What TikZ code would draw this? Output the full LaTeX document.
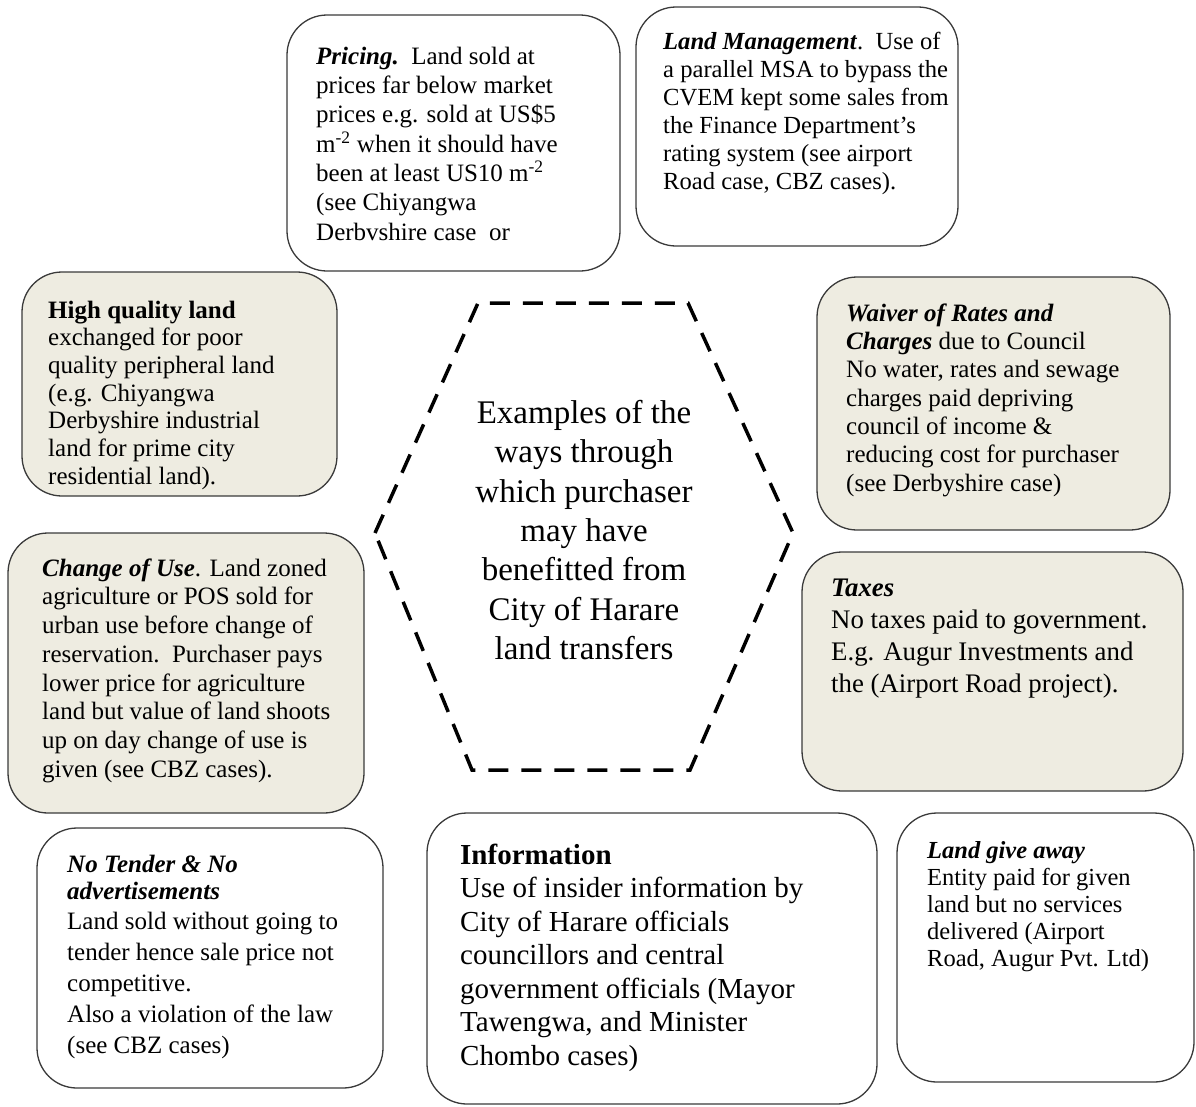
\documentclass[tikz,border=0pt]{standalone}
\usepackage{fontspec}
\setmainfont{Liberation Serif}
\usepackage{tikz}
\usetikzlibrary{positioning}
\definecolor{tanbg}{HTML}{EEECE1}
\definecolor{edge}{HTML}{3A3A3A}

\begin{document}
\begin{tikzpicture}[
    x=1pt, y=-1pt,
    card/.style={rectangle, draw=edge, line width=1.3pt, rounded corners=40pt, inner sep=0pt},
    plain/.style={card, fill=white},
    shaded/.style={card, fill=tanbg},
    cardtext/.style={anchor=north west, inner sep=0pt, align=left, font=\fontsize{25}{29}\selectfont},
    hexline/.style={line width=3.5pt, dash pattern=on 20pt off 13pt, line cap=butt}
]
    \useasboundingbox (0,0) rectangle (1196,1106);

    \node[plain, minimum width=333pt, minimum height=256pt] (pricingbox) at (453.5,143) {};
    \node[plain, minimum width=322pt, minimum height=239pt] (mgmtbox) at (797,126.5) {};
    \node[shaded, minimum width=315pt, minimum height=224pt] (qualitybox) at (179.5,384) {};
    \node[shaded, minimum width=353pt, minimum height=253pt] (waiverbox) at (993.5,403.5) {};
    \node[shaded, minimum width=356pt, minimum height=280pt] (usebox) at (186,673) {};
    \node[shaded, minimum width=381pt, minimum height=239pt] (taxbox) at (992.5,671.5) {};
    \node[plain, minimum width=346pt, minimum height=260pt] (tenderbox) at (210,958) {};
    \node[plain, minimum width=450pt, minimum height=291pt] (infobox) at (652,958.5) {};
    \node[plain, minimum width=297pt, minimum height=269pt] (giveawaybox) at (1045.5,947.5) {};

    \node[cardtext, font=\fontsize{25}{29.3}\selectfont] (pricing) at (316,43.5) {\strut\textbf{\textit{Pricing.}}\ \ Land sold at\\
        prices far below market\\
        prices e.g. sold at US\$5\\
        m\textsuperscript{-2} when it should have\\
        been at least US10 m\textsuperscript{-2}\\
        (see Chiyangwa\\
        Derbvshire case\ \ or};
    \node[cardtext, font=\fontsize{24.6}{28}\selectfont] (mgmt) at (663,29.4) {\strut\textbf{\textit{Land Management}}.\ \ Use of\\
        a parallel MSA to bypass the\\
        CVEM kept some sales from\\
        the Finance Department's\\
        rating system (see airport\\
        Road case, CBZ cases).};
    \node[cardtext, font=\fontsize{25}{27.7}\selectfont] (quality) at (48,298.6) {\strut\textbf{High quality land}\\
        exchanged for poor\\
        quality peripheral land\\
        (e.g. Chiyangwa\\
        Derbyshire industrial\\
        land for prime city\\
        residential land).};
    \node[cardtext, font=\fontsize{25}{28.3}\selectfont] (waiver) at (846,301.2) {\strut\textbf{\textit{Waiver of Rates and}}\\
        \textbf{\textit{Charges}} due to Council\\
        No water, rates and sewage\\
        charges paid depriving\\
        council of income \&\\
        reducing cost for purchaser\\
        (see Derbyshire case)};
    \node[cardtext, font=\fontsize{25}{28.7}\selectfont] (changeuse) at (42,555.9) {\strut\textbf{\textit{Change of Use}}. Land zoned\\
        agriculture or POS sold for\\
        urban use before change of\\
        reservation.\ \ Purchaser pays\\
        lower price for agriculture\\
        land but value of land shoots\\
        up on day change of use is\\
        given (see CBZ cases).};
    \node[cardtext, font=\fontsize{26.8}{32}\selectfont] (taxes) at (831,573.6) {\strut\textbf{\textit{Taxes}}\\
        No taxes paid to government.\\
        E.g. Augur Investments and\\
        the (Airport Road project).};
    \node[cardtext, font=\fontsize{25}{27}\selectfont] (tender) at (67,853.1) {\strut\textbf{\textit{No Tender \& No}}\\
        \textbf{\textit{advertisements}}\\[3pt]
        Land sold without going to\\[4pt]
        tender hence sale price not\\[4pt]
        competitive.\\[4pt]
        Also a violation of the law\\[4pt]
        (see CBZ cases)};
    \node[cardtext, font=\fontsize{29}{33.5}\selectfont] (info) at (460,840.5) {\strut\textbf{Information}\\
        Use of insider information by\\
        City of Harare officials\\
        councillors and central\\
        government officials (Mayor\\
        Tawengwa, and Minister\\
        Chombo cases)};
    \node[cardtext, font=\fontsize{24.5}{27}\selectfont] (giveaway) at (927,839.1) {\strut\textbf{\textit{Land give away}}\\
        Entity paid for given\\
        land but no services\\
        delivered (Airport\\
        Road, Augur Pvt. Ltd)};

    \coordinate (hexw) at (375,533);
    \coordinate (hexnw) at (478,303);
    \coordinate (hexne) at (688,303);
    \coordinate (hexe) at (793,533);
    \coordinate (hexse) at (690,770);
    \coordinate (hexsw) at (472,770);
    \draw[hexline] (hexw) -- (hexnw) -- (hexne) -- (hexe) -- (hexse) -- (hexsw) -- cycle;

    \node[inner sep=0pt, align=center, font=\fontsize{33}{39.3}\selectfont] (centre) at (584,530) {Examples of the\\
        ways through\\
        which purchaser\\
        may have\\
        benefitted from\\
        City of Harare\\
        land transfers};
\end{tikzpicture}
\end{document}
